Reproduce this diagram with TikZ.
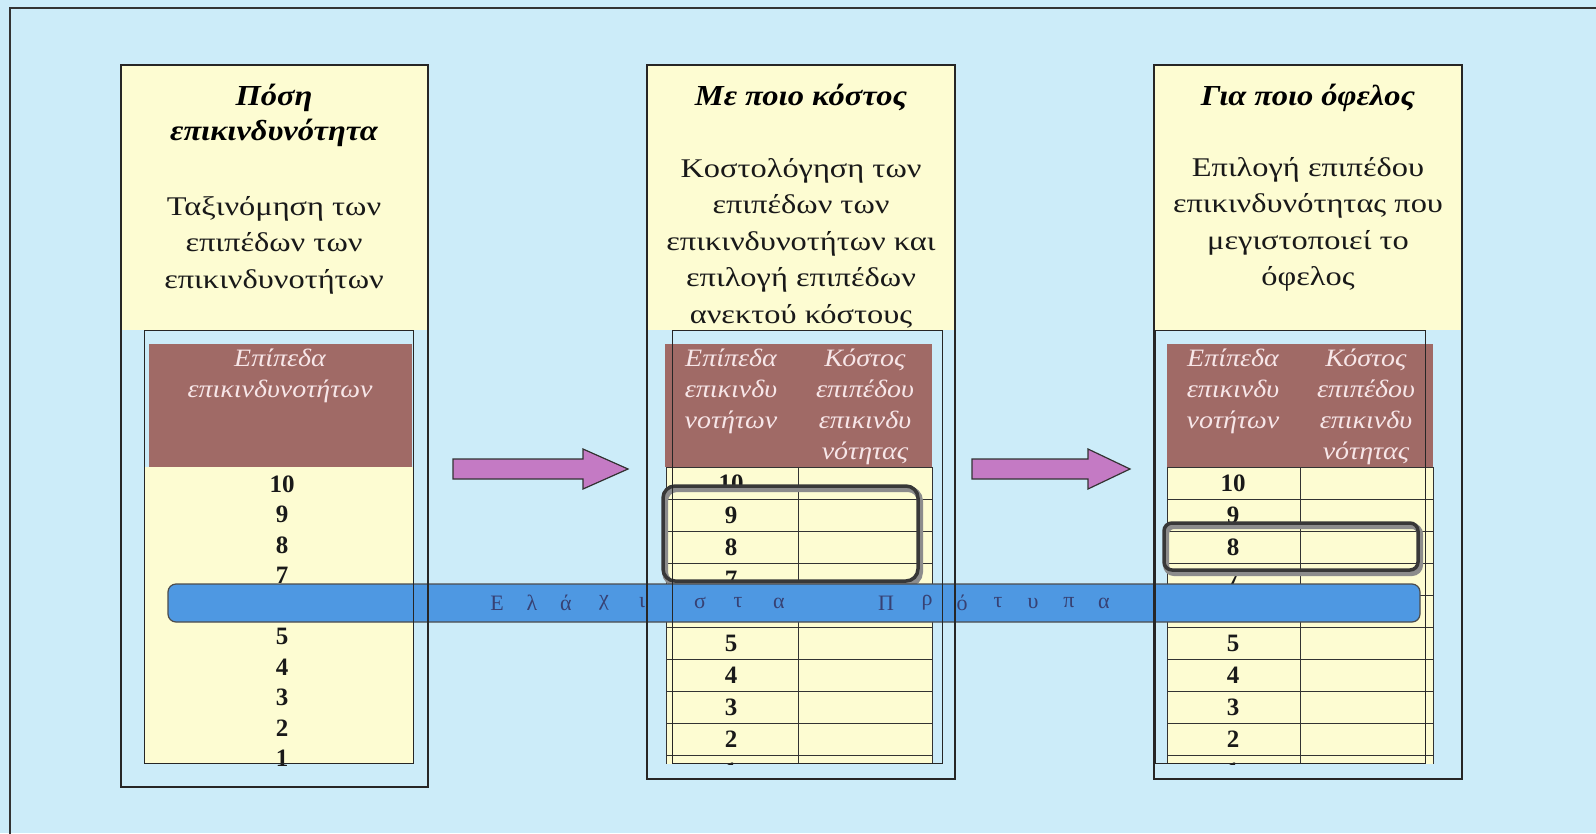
\documentclass[tikz,border=0pt]{standalone}
\usepackage{fontspec}
\setmainfont{Liberation Serif}
\newfontfamily\widefont[FakeStretch=1.2]{Liberation Serif}
\newfontfamily\headfont[FakeStretch=1.12]{Liberation Serif}
\definecolor{bgblue}{RGB}{204,236,249}
\definecolor{cream}{RGB}{253,252,210}
\definecolor{hdbrown}{RGB}{160,106,102}
\definecolor{hdtext}{RGB}{247,230,232}
\definecolor{bandblue}{RGB}{78,152,226}
\definecolor{bandtext}{RGB}{55,65,115}
\definecolor{arrowpurple}{RGB}{196,122,196}
\begin{document}
\begin{tikzpicture}[x=1pt,y=-1pt,
  colbox/.style={draw=black!85,line width=1.8pt},
  tabbox/.style={draw=black!85,line width=1pt},
  gridline/.style={draw=black!80,line width=0.9pt},
  title/.style={font=\headfont\fontsize{29}{35}\selectfont\bfseries\itshape,align=center,text=black,inner sep=0pt,anchor=north},
  body/.style={font=\widefont\fontsize{27}{36.5}\selectfont,align=center,text=black!90,inner sep=0pt,anchor=north},
  hdr/.style={font=\headfont\fontsize{25}{31}\selectfont\itshape,align=center,text=hdtext,inner sep=0pt,anchor=north},
  num/.style={font=\fontsize{25}{26}\selectfont\bfseries,text=black!90,inner sep=0pt},
  letter/.style={font=\fontsize{22}{24}\selectfont,text=bandtext,inner sep=0pt},
  selshadow/.style={draw=black!45,line width=6pt},
  selbox/.style={draw=black!78,line width=3.5pt},
  blockarrow/.style={fill=arrowpurple,draw=black!80,line width=1.2pt,line join=miter}]
\useasboundingbox (0,0) rectangle (1596,833);
% page background and frame
\fill[bgblue] (0,0) rectangle (1596,833);
\draw[black!80,line width=2pt] (10,834) -- (10,8) -- (1597,8);

% cream upper parts of the three columns
\fill[cream] (121,65) rectangle (428,330);
\fill[cream] (647,65) rectangle (955,330);
\fill[cream] (1154,65) rectangle (1462,330);

% left table: header and numbers (level 6 lies under the band)
\fill[cream] (144,467) rectangle (413,763);
\fill[hdbrown] (149,344) rectangle (412,467);
\node[hdr] (lh) at (280,349) {Επίπεδα\\επικινδυνοτήτων};
\foreach \n in {10,9,8,7,5,4,3,2,1}
  \node[num] (l\n) at (282,484+30.5*10-30.5*\n) {\n};

% middle table
\fill[hdbrown] (665,344) rectangle (932,467);
\node[hdr] (mh1) at (731,349) {Επίπεδα\\επικινδυ\\νοτήτων};
\node[hdr] (mh2) at (865,349) {Κόστος\\επιπέδου\\επικινδυ\\νότητας};
\begin{scope}
  \clip (655,467) rectangle (945,764);
  \fill[cream] (666,467) rectangle (932,764);
  \foreach \k in {0,...,9} \draw[gridline] (666,467+32*\k) -- (932,467+32*\k);
  \draw[gridline] (666,467) -- (666,764) (798,467) -- (798,764) (932,467) -- (932,764);
  \foreach \n in {10,9,8,7,5,4,3,2,1}
    \node[num] (m\n) at (731,483+320-32*\n) {\n};
\end{scope}

% right table
\fill[hdbrown] (1167,344) rectangle (1433,467);
\node[hdr] (rh1) at (1233,349) {Επίπεδα\\επικινδυ\\νοτήτων};
\node[hdr] (rh2) at (1366,349) {Κόστος\\επιπέδου\\επικινδυ\\νότητας};
\begin{scope}
  \clip (1150,467) rectangle (1440,764);
  \fill[cream] (1167,467) rectangle (1433,764);
  \foreach \k in {0,...,9} \draw[gridline] (1167,467+32*\k) -- (1433,467+32*\k);
  \draw[gridline] (1167,467) -- (1167,764) (1300,467) -- (1300,764) (1433,467) -- (1433,764);
  \foreach \n in {10,9,8,7,5,4,3,2,1}
    \node[num] (r\n) at (1233,483+320-32*\n) {\n};
\end{scope}

% selected ranges
\draw[selshadow,rounded corners=12pt] (665,489) rectangle (920,584);
\draw[selbox,rounded corners=12pt] (663,486) rectangle (918,581);
\draw[selshadow,rounded corners=8pt] (1166,526) rectangle (1420,573);
\draw[selbox,rounded corners=8pt] (1164,523) rectangle (1418,570);

% minimum standards band
\draw[fill=bandblue,draw=black!70,line width=1.2pt,rounded corners=8pt] (168,584) rectangle (1420,622);
\foreach \c/\x [count=\i] in {Ε/497,λ/532,ά/566,χ/604,ι/642,σ/700,τ/738,α/779,
                               Π/886,ρ/927,ό/962,τ/998,υ/1033,π/1069,α/1104}
  \node[letter] (b\i) at (\x,603) {\c};

% column and table outlines
\draw[colbox] (121,65) rectangle (428,787);
\draw[colbox] (647,65) rectangle (955,779);
\draw[colbox] (1154,65) rectangle (1462,779);
\draw[tabbox] (144,330) rectangle (413,763);
\draw[tabbox] (672,330) rectangle (942,763);
\draw[tabbox] (1155,330) rectangle (1425,763);

% column headings and descriptions
\node[title] (lt) at (274,84) {Πόση\\επικινδυνότητα};
\node[body] (lb) at (274,196) {Ταξινόμηση των\\επιπέδων των\\επικινδυνοτήτων};
\node[title] (mt) at (801,84) {Με ποιο κόστος};
\node[body] (mb) at (801,158) {Κοστολόγηση των\\επιπέδων των\\επικινδυνοτήτων και\\επιλογή επιπέδων\\ανεκτού κόστους};
\node[title] (rt) at (1308,84) {Για ποιο όφελος};
\node[body] (rb) at (1308,157) {Επιλογή επιπέδου\\επικινδυνότητας που\\μεγιστοποιεί το\\όφελος};

% flow arrows between the columns
\filldraw[blockarrow] (453,459) -- (583,459) -- (583,449) -- (628,469) -- (583,489) -- (583,479) -- (453,479) -- cycle;
\filldraw[blockarrow] (972,459) -- (1088,459) -- (1088,449) -- (1130,469) -- (1088,489) -- (1088,479) -- (972,479) -- cycle;
\end{tikzpicture}
\end{document}
